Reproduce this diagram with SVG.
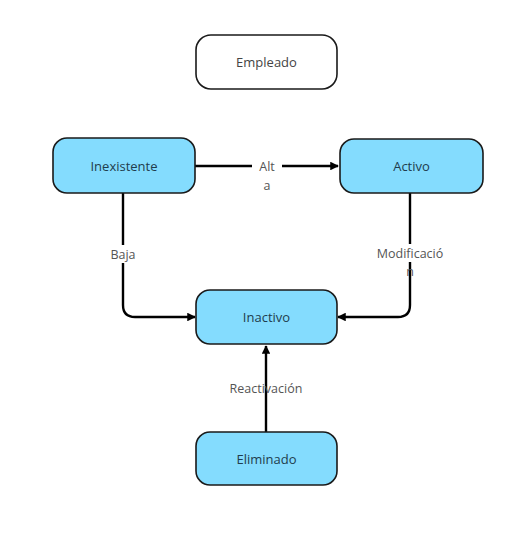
<svg xmlns="http://www.w3.org/2000/svg" width="531" height="541" viewBox="0 0 531 541">
<defs>
<style>
.node{fill:#84dcfe;stroke:#1a1a1a;stroke-width:1.6}
.plain{fill:#ffffff;stroke:#1a1a1a;stroke-width:1.6}
.nt{font-family:"Open Sans","Noto Sans",sans-serif;font-size:13px;fill:#1f3d4d;text-anchor:middle;dominant-baseline:central}
.pt{font-family:"Open Sans","Noto Sans",sans-serif;font-size:13px;fill:#444;text-anchor:middle;dominant-baseline:central}
.lbl{font-family:"Open Sans","Noto Sans",sans-serif;font-size:12.5px;fill:#555;text-anchor:middle;dominant-baseline:central}
.edge{fill:none;stroke:#000;stroke-width:2.4}
</style>
<marker id="arr" viewBox="0 0 10 10" refX="9" refY="5" markerWidth="3.6" markerHeight="3.6" orient="auto" markerUnits="strokeWidth">
<path d="M0,0 L10,5 L0,10 z" fill="#000"/>
</marker>
</defs>
<rect width="531" height="541" fill="#ffffff"/>
<g id="connectors">
<path class="edge" d="M195,166 L338,166" marker-end="url(#arr)"/>
<path class="edge" d="M123,193 L123,305 Q123,317 135,317 L195,317" marker-end="url(#arr)"/>
<path class="edge" d="M410,193 L410,305 Q410,317 398,317 L338,317" marker-end="url(#arr)"/>
<path class="edge" d="M266,432 L266,346" marker-end="url(#arr)"/>
<rect x="252" y="157" width="30" height="18" fill="#ffffff"/>
<text class="lbl" x="267" y="166">Alt</text>
<text class="lbl" x="267" y="185">a</text>
<rect x="106" y="245" width="34" height="18" fill="#ffffff"/>
<text class="lbl" x="123" y="254">Baja</text>
<rect x="372" y="244" width="76" height="18" fill="#ffffff"/>
<text class="lbl" x="410" y="253">Modificació</text>
<text class="lbl" x="410" y="271">n</text>
<text class="lbl" x="266" y="388">Reactivación</text>
</g>
<g id="empleado">
<rect class="plain" x="196" y="35" width="141" height="54" rx="15"/>
<text class="pt" x="266.5" y="62">Empleado</text>
</g>
<g id="inexistente">
<rect class="node" x="53" y="138" width="142" height="55" rx="14"/>
<text class="nt" x="124" y="165.5">Inexistente</text>
</g>
<g id="activo">
<rect class="node" x="340" y="139" width="143" height="54" rx="14"/>
<text class="nt" x="411.5" y="166">Activo</text>
</g>
<g id="inactivo">
<rect class="node" x="196" y="290" width="141" height="54" rx="14"/>
<text class="nt" x="266.5" y="317">Inactivo</text>
</g>
<g id="eliminado">
<rect class="node" x="196" y="432" width="141" height="53" rx="14"/>
<text class="nt" x="266.5" y="458.5">Eliminado</text>
</g>
</svg>
